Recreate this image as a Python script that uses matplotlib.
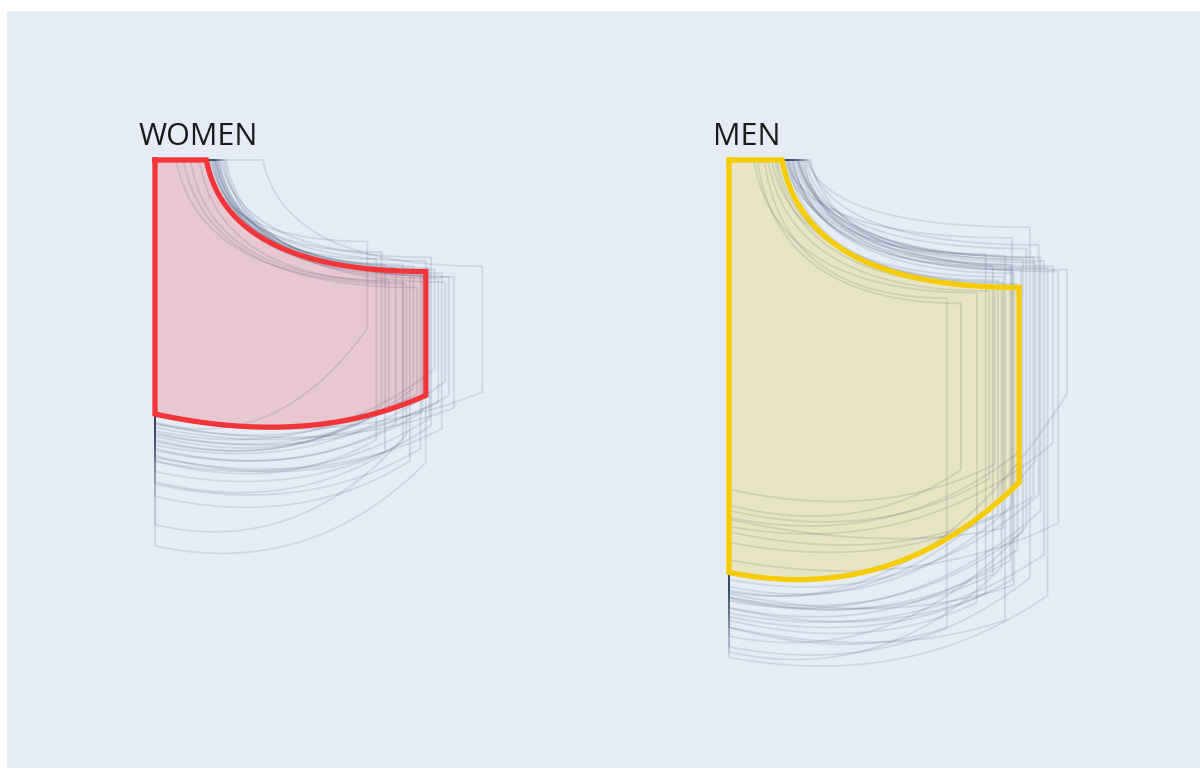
import numpy as np
import matplotlib
matplotlib.use("Agg")
import matplotlib.pyplot as plt

# pocket measurements in cm: width, opening, curve depth (right top), right bottom, left bottom
women_width = [12.0, 12.5, 13.6, 14.0, 14.4, 14.6, 15.1, 15.6, 16.0, 16.4, 16.9, 18.5,
               15.3, 14.2, 15.0, 13.2, 16.2, 15.8, 14.8, 12.8, 15.5, 16.6, 14.0, 13.0]
women_opening = [2.8, 3.3, 3.5, 3.2, 3.4, 3.6, 3.0, 3.7, 3.3, 3.9, 3.4, 6.1,
                 3.1, 1.2, 3.6, 2.0, 3.8, 3.5, 1.6, 3.2, 3.4, 4.0, 2.5, 3.0]
women_curve = [4.6, 5.6, 6.1, 5.9, 6.2, 6.0, 6.5, 5.5, 6.7, 6.9, 6.6, 6.0,
               5.7, 7.0, 6.3, 6.8, 6.4, 6.2, 7.2, 5.2, 6.1, 6.6, 6.9, 5.9]
women_right = [9.5, 15.8, 14.9, 13.6, 17.0, 12.9, 14.2, 15.0, 13.7, 12.5, 14.0, 13.1,
               17.1, 15.5, 16.3, 14.0, 15.2, 11.8, 13.2, 13.9, 14.6, 13.3, 15.9, 16.5]
women_left = [14.8, 17.0, 16.3, 15.4, 19.0, 15.9, 16.4, 17.6, 15.1, 16.1, 14.9, 14.5,
              21.8, 20.6, 18.3, 15.6, 16.8, 15.3, 14.9, 15.8, 17.0, 15.5, 18.2, 16.7]
women_avg = [15.3, 2.9, 6.3, 13.3, 14.35]

men_width = [13.1, 14.5, 14.9, 15.5, 15.6, 16.0, 16.0, 16.6, 17.0, 17.6, 18.0, 18.6, 19.1,
             12.3, 14.0, 15.2, 16.3, 17.3, 15.9, 16.8, 17.8, 14.7, 16.1, 17.5, 18.3, 15.4,
             15.0, 16.5, 17.2]
men_opening = [1.6, 3.4, 3.6, 2.4, 3.9, 3.2, 4.2, 3.5, 4.4, 3.8, 4.6, 4.0, 3.7,
               2.0, 1.4, 3.0, 2.7, 4.1, 3.3, 3.9, 4.3, 2.2, 3.6, 4.5, 3.1, 3.3,
               2.6, 3.4, 3.9]
men_curve = [8.1, 5.3, 6.0, 6.6, 5.4, 4.4, 6.2, 5.6, 3.8, 5.5, 6.1, 6.3, 6.2,
             7.8, 7.5, 6.8, 7.0, 5.8, 5.9, 5.0, 5.7, 7.4, 6.4, 4.8, 6.0, 6.9,
             7.1, 6.2, 5.5]
men_right = [17.5, 24.5, 23.4, 20.8, 26.0, 23.7, 19.5, 21.0, 23.6, 19.8, 24.6, 20.5, 13.2,
             26.4, 25.0, 20.0, 22.0, 17.0, 22.6, 20.7, 22.3, 18.0, 24.0, 18.9, 16.0, 23.0,
             17.2, 16.4, 19.0]
men_left = [19.5, 25.3, 24.7, 20.3, 26.4, 25.8, 24.1, 24.7, 27.5, 24.9, 28.1, 22.6, 24.4,
            26.4, 26.0, 21.0, 25.3, 24.3, 24.8, 26.9, 25.6, 19.8, 24.5, 23.7, 20.7, 27.8,
            18.6, 20.2, 21.6]
men_avg = [16.4, 3.0, 7.2, 18.2, 23.3]

labels = ["WOMEN", "MEN"]

S = 17.7          # pixels per cm
FW, FH = 1200, 769


def pocket_outline(w, a, y1, y2, h, n=60):
    t = np.linspace(0, 1, n)
    # opening curve, quadratic bezier from (a, 0) to (w, y1)
    ca = a + 0.1 * (w - a)
    tx = (1 - t) ** 2 * a + 2 * t * (1 - t) * ca + t ** 2 * w
    ty = 2 * t * (1 - t) * y1 + t ** 2 * y1
    # bottom curve from (w, y2) to (0, h)
    cx, cy = 0.57 * w, h + 1.9
    bx = (1 - t) ** 2 * w + 2 * t * (1 - t) * cx
    by = (1 - t) ** 2 * y2 + 2 * t * (1 - t) * cy + t ** 2 * h
    xs = np.concatenate([[0, a], tx, [w], bx, [0, 0]])
    ys = np.concatenate([[0, 0], ty, [y2], by, [h, 0]])
    return xs, ys


def pocket_axes(fig, ox, oy, xlim=(-2, 24), ylim=(-3, 31)):
    left = ox + xlim[0] * S
    right = ox + xlim[1] * S
    top = oy + ylim[0] * S
    bottom = oy + ylim[1] * S
    ax = fig.add_axes([left / FW, 1 - bottom / FH, (right - left) / FW, (bottom - top) / FH])
    ax.set_xlim(*xlim)
    ax.set_ylim(ylim[1], ylim[0])
    ax.set_aspect("equal")
    ax.axis("off")
    ax.patch.set_alpha(0)
    return ax


fig = plt.figure(figsize=(FW / 100, FH / 100), dpi=100, facecolor="white")
bg = fig.add_axes([7 / FW, 1 - 768 / FH, 1193 / FW, 757 / FH])
bg.set_facecolor("#e5ecf6")
bg.set_xticks([])
bg.set_yticks([])
for sp in bg.spines.values():
    sp.set_visible(False)

groups = [
    (women_width, women_opening, women_curve, women_right, women_left, women_avg, "#f2353b", 155),
    (men_width, men_opening, men_curve, men_right, men_left, men_avg, "#f5cc00", 729),
]

for (ws, ops, cs, rs, ls, avg, col, ox), lab in zip(groups, labels):
    ax = pocket_axes(fig, ox, 160)
    for w, a, y1, y2, h in zip(ws, ops, cs, rs, ls):
        xs, ys = pocket_outline(w, a, y1, y2, h)
        ax.plot(xs, ys, color="#2a3f5f", alpha=0.13, lw=1.3)
    xs, ys = pocket_outline(*avg)
    ax.fill(xs, ys, color=col, alpha=0.2, lw=0)
    ax.plot(xs, ys, color=col, lw=3.8, solid_joinstyle="miter")
    fig.text((ox - 16) / FW, 1 - 145 / FH, lab, fontsize=22, family="Open Sans",
             color="#1a1a1a", va="baseline", ha="left")

fig.savefig("out.png", dpi=100, facecolor="white")
